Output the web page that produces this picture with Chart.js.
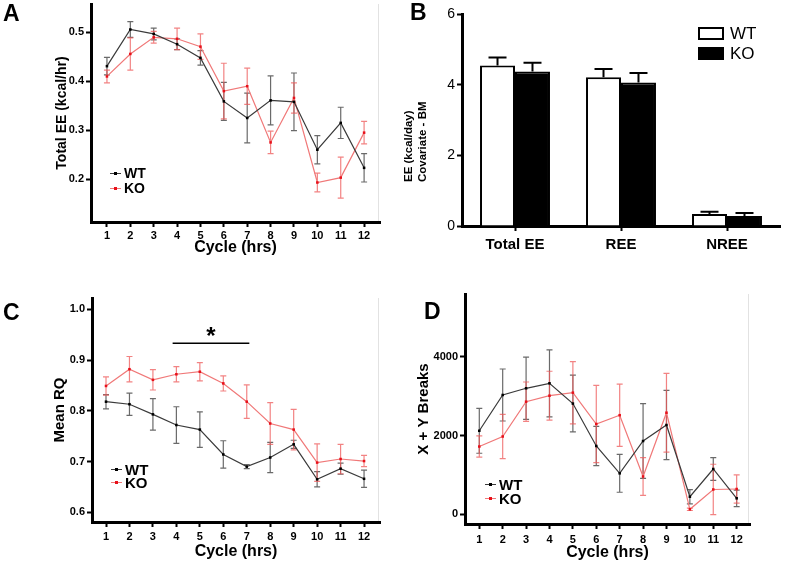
<!DOCTYPE html>
<html>
<head>
<meta charset="utf-8">
<script src="https://cdn.jsdelivr.net/npm/chart.js@4.4.0/dist/chart.umd.min.js"></script>
<style>
  body { margin: 0; background: #fff; font-family: "Liberation Sans", Arial, sans-serif; }
  #page { position: relative; width: 787px; height: 564px; overflow: hidden; }
  canvas { position: absolute; }
  .letter { position: absolute; font-size: 23px; line-height: 23px; font-weight: bold; color: #000; }
  .leg { position: absolute; display: flex; align-items: center; font-weight: bold; line-height: 1; color: #000; }
  .sym { position: relative; width: 11px; height: 1px; margin-right: 3px; }
  .sym::after { content: ''; position: absolute; left: 4px; top: -1px; width: 3px; height: 3px; background: var(--m); }
  .bleg { position: absolute; display: flex; align-items: center; font-size: 17px; line-height: 1; color: #000; }
  .bleg i { display: inline-block; width: 22px; height: 9px; border: 2px solid #000; margin-right: 6px; }
  #bTitle { position: absolute; left: 401px; top: 182px; transform: rotate(-90deg); transform-origin: left top;
            font-size: 11.5px; font-weight: bold; line-height: 14px; white-space: nowrap; }
</style>
</head>
<body>
<div id="page">
  <canvas id="chartA" width="390" height="262" style="left:0;top:0"></canvas>
  <canvas id="chartB" width="397" height="262" style="left:390px;top:0"></canvas>
  <canvas id="chartC" width="390" height="302" style="left:0;top:262px"></canvas>
  <canvas id="chartD" width="397" height="302" style="left:390px;top:262px"></canvas>

  <div class="letter" style="left:3px;top:2px">A</div>
  <div class="letter" style="left:410px;top:1px">B</div>
  <div class="letter" style="left:3px;top:301px">C</div>
  <div class="letter" style="left:424px;top:300px">D</div>

  <div class="leg" style="left:110px;top:166px;font-size:14px"><span class="sym" style="background:#3a3a3a;--m:#000"></span>WT</div>
  <div class="leg" style="left:110px;top:181px;font-size:14px"><span class="sym" style="background:#f07878;--m:#e8101a"></span>KO</div>

  <div class="leg" style="left:111px;top:462px;font-size:15px"><span class="sym" style="background:#3a3a3a;--m:#000"></span>WT</div>
  <div class="leg" style="left:111px;top:475px;font-size:15px"><span class="sym" style="background:#f07878;--m:#e8101a"></span>KO</div>

  <div class="leg" style="left:485px;top:477px;font-size:15px"><span class="sym" style="background:#3a3a3a;--m:#000"></span>WT</div>
  <div class="leg" style="left:485px;top:491px;font-size:15px"><span class="sym" style="background:#f07878;--m:#e8101a"></span>KO</div>

  <div class="bleg" style="left:698px;top:25px"><i style="background:#fff"></i>WT</div>
  <div class="bleg" style="left:698px;top:45px"><i style="background:#000"></i>KO</div>
  <div id="bTitle">EE (kcal/day)<br>Covariate - BM</div>
</div>

<script>
const FONT = '"Liberation Sans", Arial, sans-serif';

const cycles = [1, 2, 3, 4, 5, 6, 7, 8, 9, 10, 11, 12];

// A - total energy expenditure per hour
const eeWT    = [0.431, 0.506, 0.497, 0.476, 0.448, 0.359, 0.325, 0.361, 0.358, 0.260, 0.315, 0.223];
const eeWTsem = [0.018, 0.016, 0.012, 0.011, 0.015, 0.039, 0.051, 0.050, 0.059, 0.029, 0.032, 0.029];
const eeKO    = [0.410, 0.456, 0.490, 0.487, 0.471, 0.380, 0.390, 0.275, 0.366, 0.193, 0.203, 0.295];
const eeKOsem = [0.013, 0.033, 0.012, 0.022, 0.026, 0.057, 0.037, 0.023, 0.031, 0.019, 0.042, 0.023];
const eeTicks = [0.2, 0.3, 0.4, 0.5];

// B - daily EE, covariate body mass
const bCats  = ['Total EE', 'REE', 'NREE'];
const bWT    = [4.54, 4.21, 0.34];
const bWTsem = [0.23, 0.23, 0.06];
const bKO    = [4.37, 4.06, 0.28];
const bKOsem = [0.25, 0.27, 0.09];
const bTicks = [0, 2, 4, 6];

// C - mean RQ
const rqWT    = [0.818, 0.813, 0.793, 0.772, 0.763, 0.714, 0.690, 0.708, 0.734, 0.665, 0.686, 0.666];
const rqWTsem = [0.014, 0.022, 0.031, 0.036, 0.035, 0.027, 0.004, 0.030, 0.008, 0.015, 0.011, 0.017];
const rqKO    = [0.849, 0.882, 0.861, 0.872, 0.877, 0.854, 0.818, 0.775, 0.763, 0.698, 0.705, 0.701];
const rqKOsem = [0.018, 0.025, 0.020, 0.015, 0.018, 0.015, 0.033, 0.041, 0.040, 0.037, 0.029, 0.011];
const rqTicks = [0.6, 0.7, 0.8, 0.9, 1.0];
const sigSpan = [3.84, 7.11];   // cycles covered by the * bar
const sigLevel = 0.933;

// D - activity (X + Y beam breaks)
const brkWT    = [2120, 3028, 3198, 3325, 2810, 1734, 1040, 1860, 2266, 447, 1150, 406];
const brkWTsem = [570, 660, 790, 850, 720, 500, 480, 950, 880, 180, 290, 210];
const brkKO    = [1720, 1975, 2858, 3010, 3087, 2292, 2515, 960, 2579, 127, 630, 642];
const brkKOsem = [270, 560, 500, 620, 790, 980, 790, 480, 1000, 30, 640, 360];
const brkTicks = [0, 2000, 4000];

// error bars read from dataset.sem, drawn through the y scale
function drawErrors(chart, upOnly) {
    const ctx = chart.ctx;
    const y = chart.scales.y;
    chart.data.datasets.forEach((ds, di) => {
        if (!ds.sem) return;
        const meta = chart.getDatasetMeta(di);
        const cap = upOnly ? 9 : 3;
        ctx.save();
        ctx.strokeStyle = ds.errColor;
        ctx.lineWidth = upOnly ? 2 : 1.2;
        meta.data.forEach((el, i) => {
            const raw = ds.data[i];
            const v = typeof raw === 'object' ? raw.y : raw;
            const top = y.getPixelForValue(v + ds.sem[i]);
            const bot = y.getPixelForValue(upOnly ? v : v - ds.sem[i]);
            ctx.beginPath();
            ctx.moveTo(el.x, top);
            ctx.lineTo(el.x, bot);
            ctx.moveTo(el.x - cap, top);
            ctx.lineTo(el.x + cap, top);
            if (!upOnly) {
                ctx.moveTo(el.x - cap, bot);
                ctx.lineTo(el.x + cap, bot);
            }
            ctx.stroke();
        });
        ctx.restore();
    });
}

const errorBars = {
    id: 'errorBars',
    beforeDatasetsDraw(chart) { if (chart.config.type === 'line') drawErrors(chart, false); },
    afterDatasetsDraw(chart) { if (chart.config.type === 'bar') drawErrors(chart, true); }
};

const rightFrame = {
    id: 'rightFrame',
    beforeDraw(chart) {
        const { ctx, chartArea: a } = chart;
        ctx.save();
        ctx.strokeStyle = '#e2e2e2';
        ctx.lineWidth = 1;
        ctx.beginPath();
        ctx.moveTo(a.right - 1.5, a.top);
        ctx.lineTo(a.right - 1.5, a.bottom);
        ctx.stroke();
        ctx.restore();
    }
};

const sigMark = {
    id: 'sigMark',
    afterDatasetsDraw(chart) {
        const { ctx, scales: { x, y } } = chart;
        const x0 = x.getPixelForValue(sigSpan[0]);
        const x1 = x.getPixelForValue(sigSpan[1]);
        const yy = y.getPixelForValue(sigLevel);
        ctx.save();
        ctx.strokeStyle = '#000';
        ctx.lineWidth = 1.5;
        ctx.beginPath();
        ctx.moveTo(x0, yy);
        ctx.lineTo(x1, yy);
        ctx.stroke();
        ctx.fillStyle = '#000';
        ctx.font = 'bold 24px ' + FONT;
        ctx.textAlign = 'center';
        ctx.textBaseline = 'alphabetic';
        ctx.fillText('*', (x0 + x1) / 2, yy + 1);
        ctx.restore();
    }
};

function series(label, ys, sem, line, point, err) {
    return {
        label: label,
        data: cycles.map((c, i) => ({ x: c, y: ys[i] })),
        sem: sem,
        errColor: err,
        borderColor: line,
        borderWidth: 1.2,
        pointStyle: 'rect',
        pointRadius: 1.8,
        pointBorderWidth: 0,
        pointBackgroundColor: point,
        tension: 0
    };
}

const axisGrid = { display: true, drawOnChartArea: false, drawTicks: true, tickLength: 5, tickWidth: 2, tickColor: '#000' };
const axisBorder = { display: true, color: '#000', width: 3 };

function lineChart(id, c) {
    return new Chart(document.getElementById(id), {
        type: 'line',
        data: {
            datasets: [
                series('WT', c.wt, c.wtSem, '#3a3a3a', '#000', '#6a6a6a'),
                series('KO', c.ko, c.koSem, '#f07878', '#e8101a', 'rgba(238,90,90,0.75)')
            ]
        },
        options: {
            responsive: false,
            animation: false,
            events: [],
            layout: { padding: c.pad },
            plugins: { legend: { display: false }, tooltip: { enabled: false } },
            scales: {
                x: {
                    type: 'linear', min: c.xMin, max: c.xMax,
                    afterBuildTicks: s => { s.ticks = cycles.map(v => ({ value: v })); },
                    afterFit: s => { s.height = c.xH; s.paddingLeft = 0; s.paddingRight = 0; },
                    border: axisBorder,
                    grid: axisGrid,
                    ticks: { color: '#000', font: { family: FONT, size: 11, weight: 'bold' }, padding: c.xTickPad, maxRotation: 0, autoSkip: false },
                    title: { display: true, text: 'Cycle (hrs)', color: '#000', font: { family: FONT, size: 16, weight: 'bold' }, padding: { top: 0, bottom: c.xTitlePad } }
                },
                y: {
                    min: c.yMin, max: c.yMax,
                    afterBuildTicks: s => { s.ticks = c.yTicks.map(v => ({ value: v })); },
                    afterFit: s => { s.width = c.yW; s.paddingTop = 0; s.paddingBottom = 0; },
                    border: axisBorder,
                    grid: axisGrid,
                    ticks: { color: '#000', font: { family: FONT, size: 11, weight: 'bold' }, padding: 2, callback: c.fmt },
                    title: { display: true, text: c.yTitle, color: '#000', font: { family: FONT, size: c.yTitleSize, weight: 'bold' }, padding: { top: c.yTitlePad, bottom: 0 } }
                }
            }
        },
        plugins: [errorBars, rightFrame].concat(c.extra || [])
    });
}

lineChart('chartA', {
    wt: eeWT, wtSem: eeWTsem, ko: eeKO, koSem: eeKOsem,
    xMin: 0.318, xMax: 12.68, yMin: 0.1122, yMax: 0.5582, yTicks: eeTicks,
    fmt: v => v.toFixed(1),
    pad: { left: 0, top: 0, right: 10, bottom: 0 }, yW: 91, xH: 40,
    xTickPad: 2.5, xTitlePad: 4.4,
    yTitle: 'Total EE (kcal/hr)', yTitleSize: 14, yTitlePad: 53.6
});

lineChart('chartC', {
    wt: rqWT, wtSem: rqWTsem, ko: rqKO, koSem: rqKOsem,
    xMin: 0.403, xMax: 12.68, yMin: 0.5809, yMax: 1.0223, yTicks: rqTicks,
    fmt: v => v.toFixed(1),
    pad: { left: 0, top: 36, right: 10, bottom: 0 }, yW: 92, xH: 42,
    xTickPad: 3.7, xTitlePad: 2.7,
    yTitle: 'Mean RQ', yTitleSize: 15, yTitlePad: 51,
    extra: [sigMark]
});

lineChart('chartD', {
    wt: brkWT, wtSem: brkWTsem, ko: brkKO, koSem: brkKOsem,
    xMin: 0.389, xMax: 12.57, yMin: -246, yMax: 5591, yTicks: brkTicks,
    fmt: v => String(v),
    pad: { left: 0, top: 32, right: 37, bottom: 0 }, yW: 75, xH: 40,
    xTickPad: 4.4, xTitlePad: 1.4,
    yTitle: 'X + Y Breaks', yTitleSize: 15, yTitlePad: 25
});

new Chart(document.getElementById('chartB'), {
    type: 'bar',
    data: {
        labels: bCats,
        datasets: [
            { label: 'WT', data: bWT, sem: bWTsem, errColor: '#000', backgroundColor: '#fff', borderColor: '#000', borderWidth: 2, categoryPercentage: 0.66, barPercentage: 1 },
            { label: 'KO', data: bKO, sem: bKOsem, errColor: '#000', backgroundColor: '#000', borderColor: '#000', borderWidth: 2, categoryPercentage: 0.66, barPercentage: 1 }
        ]
    },
    options: {
        responsive: false,
        animation: false,
        events: [],
        layout: { padding: { left: 0, top: 14, right: 7, bottom: 0 } },
        plugins: { legend: { display: false }, tooltip: { enabled: false } },
        scales: {
            x: {
                afterFit: s => { s.height = 36; s.paddingLeft = 0; s.paddingRight = 0; },
                border: axisBorder,
                grid: Object.assign({}, axisGrid, { offset: false }),
                ticks: { color: '#000', font: { family: FONT, size: 15, weight: 'bold' }, padding: 5 }
            },
            y: {
                min: 0, max: 6,
                afterBuildTicks: s => { s.ticks = bTicks.map(v => ({ value: v })); },
                afterFit: s => { s.width = 72; s.paddingTop = 0; s.paddingBottom = 0; },
                border: axisBorder,
                grid: axisGrid,
                ticks: { color: '#000', font: { family: FONT, size: 14 }, padding: 2 }
            }
        }
    },
    plugins: [errorBars]
});
</script>
</body>
</html>
